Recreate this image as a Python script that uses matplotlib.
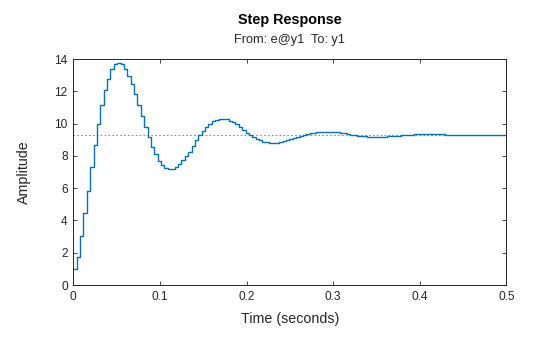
import numpy as np
import matplotlib
matplotlib.use("Agg")
from matplotlib import pyplot as plt

plt.rcParams['font.family'] = ['Liberation Sans', 'DejaVu Sans']

# discrete step response, one value per sample
sampleTime = 0.0039
amplitude = [
    0.97, 1.75, 3.04, 4.44, 5.81, 7.29, 8.69, 9.96, 11.13, 12.06,
    12.78, 13.36, 13.67, 13.77, 13.67, 13.36, 12.95, 12.43, 11.83, 11.13,
    10.47, 9.77, 9.19, 8.53, 8.11, 7.69, 7.43, 7.26, 7.17, 7.17,
    7.29, 7.47, 7.73, 7.97, 8.27, 8.59, 9.00, 9.29, 9.54, 9.78,
    9.97, 10.14, 10.20, 10.26, 10.26, 10.26, 10.14, 10.08, 9.95, 9.77,
    9.60, 9.44, 9.31, 9.19, 9.06, 8.96, 8.88, 8.84, 8.80, 8.80,
    8.80, 8.84, 8.91, 8.98, 9.05, 9.10, 9.17, 9.23, 9.29, 9.36,
    9.42, 9.42, 9.46, 9.46, 9.50, 9.50, 9.46, 9.46, 9.46, 9.40,
    9.40, 9.34, 9.29, 9.29, 9.25, 9.25, 9.25, 9.19, 9.19, 9.19,
    9.19, 9.19, 9.19, 9.23, 9.23, 9.23, 9.23, 9.27, 9.27, 9.27,
    9.27, 9.33, 9.33, 9.33, 9.33, 9.33, 9.33, 9.33, 9.33, 9.33,
    9.27,
]
steadyState = 9.27
endTime = 0.5

xTicks = [0, 0.1, 0.2, 0.3, 0.4, 0.5]
xTickLabels = ["0", "0.1", "0.2", "0.3", "0.4", "0.5"]
yTicks = [0, 2, 4, 6, 8, 10, 12, 14]

axisColor = "#262626"
lineColor = "#0072BD"

fig = plt.figure(figsize=(5.6, 3.37), dpi=100)
ax = fig.add_axes([0.1309, 0.1543, 0.7732, 0.6706])

timePoints = list(np.arange(len(amplitude)) * sampleTime) + [endTime]
values = amplitude + [amplitude[-1]]
ax.plot(timePoints, values, drawstyle="steps-post", color=lineColor, lw=1.0)
ax.axhline(steadyState, color="#8c8c8c", lw=0.8, linestyle=(0, (1.5, 2.0)), zorder=1)

ax.set_xlim(0, 0.5)
ax.set_ylim(0, 14)
ax.set_xticks(xTicks)
ax.set_xticklabels(xTickLabels)
ax.set_yticks(yTicks)
ax.tick_params(direction="in", top=True, right=True, length=3.2, width=0.6,
               colors=axisColor, labelsize=8.6, pad=4)
for spine in ax.spines.values():
    spine.set_color(axisColor)
    spine.set_linewidth(0.7)

ax.set_xlabel("Time (seconds)", fontsize=10.3, color=axisColor, labelpad=6.5)
ax.set_ylabel("Amplitude", fontsize=10.3, color=axisColor, labelpad=17)

fig.text(0.5175, 1 - 24 / 337, "Step Response", ha="center", va="baseline",
         fontsize=10.4, fontweight="bold", color="black")
fig.text(0.5175, 1 - 42.5 / 337, "From: e@y1  To: y1", ha="center", va="baseline",
         fontsize=9.2, color=axisColor)

fig.savefig("out.png", dpi=100)
